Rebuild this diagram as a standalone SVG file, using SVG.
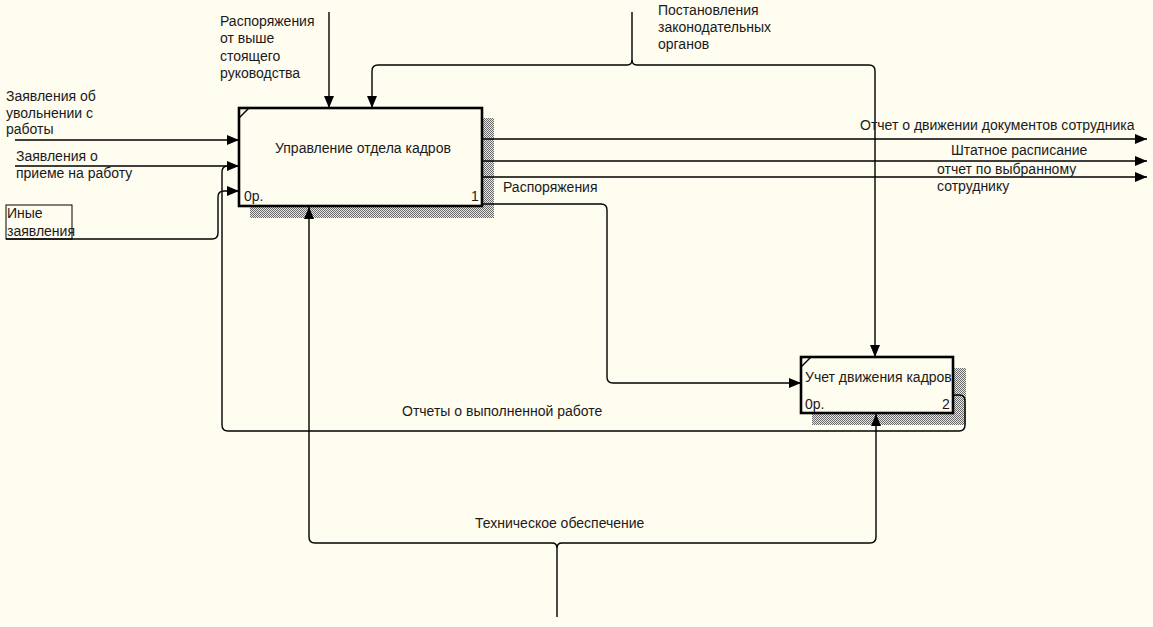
<svg xmlns="http://www.w3.org/2000/svg" width="1153" height="627" viewBox="0 0 1153 627">
<defs>
<style>
text{font-family:"Liberation Sans",Arial,sans-serif;font-size:14px;fill:#1a1a1a}
.c{fill:none;stroke:#000;stroke-width:1.4}
.box{fill:#fffcf0;stroke:#000;stroke-width:2.6}
.sh{fill:url(#hatch)}
</style>
<pattern id="hatch" width="2" height="2" patternUnits="userSpaceOnUse">
<rect width="2" height="2" fill="#e8e8e0"/>
<rect width="1" height="1" fill="#6a6a6a"/>
<rect x="1" y="1" width="1" height="1" fill="#6a6a6a"/>
</pattern>
<marker id="ar" viewBox="0 0 12 10" refX="12" refY="5" markerWidth="12" markerHeight="10" markerUnits="userSpaceOnUse" orient="auto">
<path d="M0 0 L12 5 L0 10 Z" fill="#000"/>
</marker>
</defs>
<rect width="1153" height="627" fill="#fffcf0"/>

<g id="node1">
<rect class="sh" x="250" y="118" width="244" height="100"/>
<rect class="box" x="239" y="108" width="243" height="98"/>
<path d="M239 118 L249 108" stroke="#000" stroke-width="1.4"/>
<text x="275" y="153">Управление отдела кадров</text>
<text x="244" y="201">0р.</text>
<text x="471" y="201">1</text>
</g>

<g id="node2">
<rect class="sh" x="812" y="368" width="154" height="57"/>
<rect class="box" x="801" y="357" width="152" height="56"/>
<path d="M801 367 L811 357" stroke="#000" stroke-width="1.4"/>
<text x="805" y="382">Учет движения кадров</text>
<text x="805" y="409">0р.</text>
<text x="942" y="409">2</text>
</g>

<g id="other-requests">
<rect x="6" y="205" width="66" height="34" fill="none" stroke="#000" stroke-width="1"/>
<text x="7" y="218">Иные</text>
<text x="7" y="236">заявления</text>
</g>

<g id="connectors">
<path class="c" d="M15 140 H239" marker-end="url(#ar)"/>
<path class="c" d="M15 166 H239" marker-end="url(#ar)"/>
<path class="c" d="M6 239 H212 Q218 239 218 233 V197 Q218 191 224 191 H239" marker-end="url(#ar)"/>
<path class="c" d="M953 395 H959 Q965 395 965 401 V425 Q965 431 959 431 H228 Q222 431 222 425 V172 Q222 166 228 166 H234"/>
<path class="c" d="M329 12 V108" marker-end="url(#ar)"/>
<path class="c" d="M632 12 V60 Q632 65 627 65 H378 Q372 65 372 71 V108" marker-end="url(#ar)"/>
<path class="c" d="M632 60 Q632 65 637 65 H869 Q875 65 875 71 V357" marker-end="url(#ar)"/>
<path class="c" d="M482 139 H1147" marker-end="url(#ar)"/>
<path class="c" d="M482 161 H1147" marker-end="url(#ar)"/>
<path class="c" d="M482 177 H1147" marker-end="url(#ar)"/>
<path class="c" d="M482 204 H601 Q607 204 607 210 V377 Q607 383 613 383 H801" marker-end="url(#ar)"/>
<path class="c" d="M557 617 V548 Q557 543 552 543 H315 Q309 543 309 537 V207" marker-end="url(#ar)"/>
<path class="c" d="M557 548 Q557 543 562 543 H870 Q876 543 876 537 V414" marker-end="url(#ar)"/>
</g>

<g id="labels">
<text x="6" y="101">Заявления об</text>
<text x="6" y="118">увольнении с</text>
<text x="6" y="134">работы</text>
<text x="16" y="161">Заявления о</text>
<text x="16" y="178">приеме на работу</text>
<text x="220" y="26">Распоряжения</text>
<text x="220" y="43">от выше</text>
<text x="220" y="61">стоящего</text>
<text x="220" y="78">руководства</text>
<text x="658" y="15">Постановления</text>
<text x="658" y="32">законодательных</text>
<text x="658" y="49">органов</text>
<text x="860" y="130">Отчет о движении документов сотрудника</text>
<text x="951" y="155">Штатное расписание</text>
<text x="937" y="174">отчет по выбранному</text>
<text x="937" y="191">сотруднику</text>
<text x="503" y="192">Распоряжения</text>
<text x="402" y="416">Отчеты о выполненной работе</text>
<text x="475" y="528">Техническое обеспечение</text>
</g>
</svg>
